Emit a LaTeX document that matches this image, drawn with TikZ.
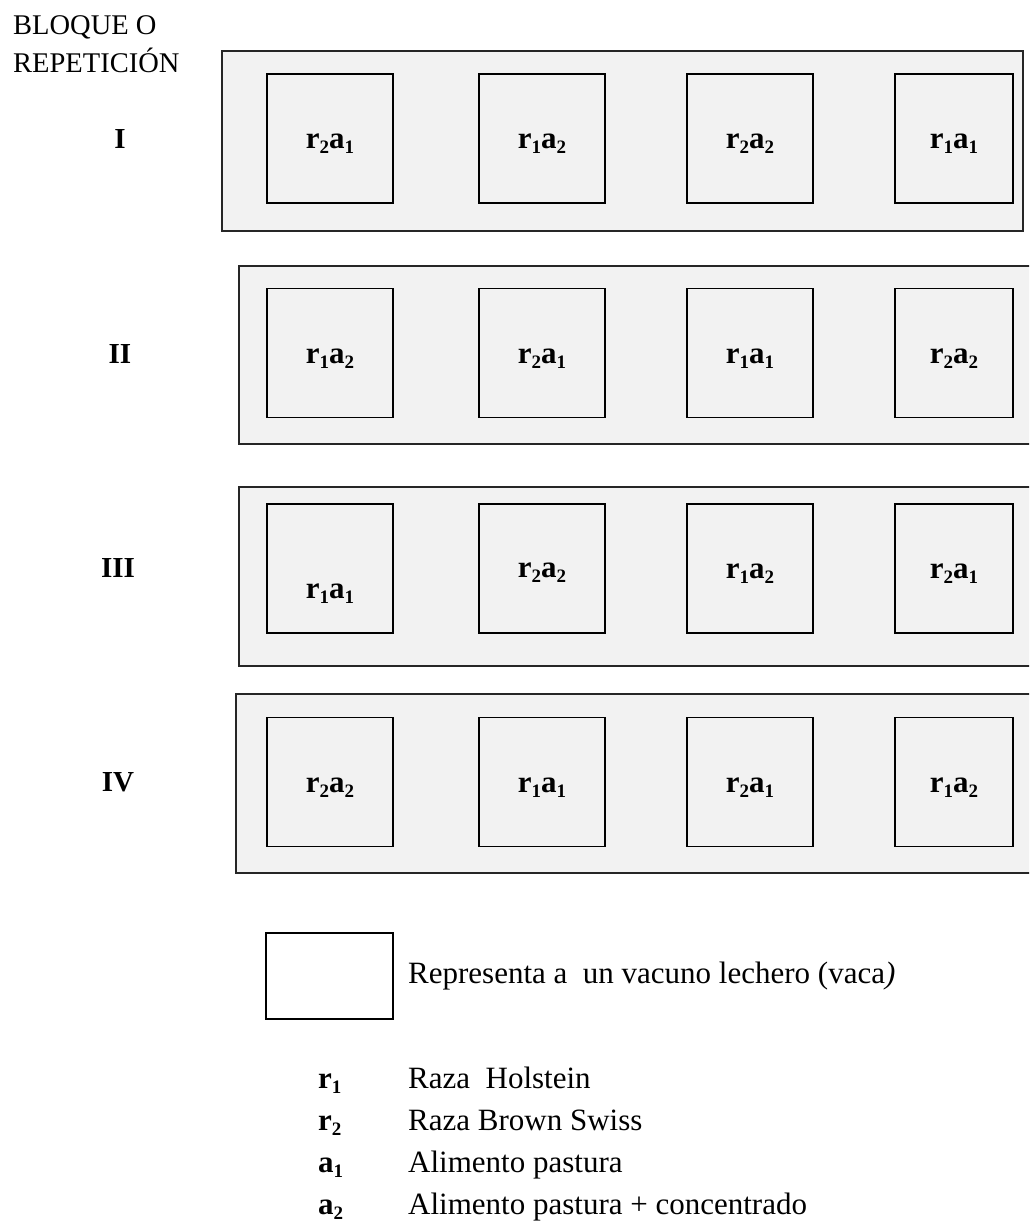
\documentclass[tikz,border=0pt]{standalone}
\usepackage{fontspec}
\setmainfont{Liberation Serif}
\newcommand{\subx}[1]{\raisebox{-0.17em}{\fontsize{19}{19}\selectfont #1}}
\begin{document}
\begin{tikzpicture}[x=1pt,y=-1pt,
  rowbox/.style={draw=black!85, line width=1.8pt, fill=gray!10},
  cell/.style={draw=black, line width=1.6pt, fill=gray!10, minimum height=129pt, minimum width=126pt, inner sep=0pt},
  lastcell/.style={cell, minimum width=118pt},
  lab/.style={anchor=base, inner sep=0pt, font=\fontsize{31}{31}\selectfont\bfseries},
  roman/.style={anchor=base, inner sep=0pt, font=\fontsize{29}{29}\selectfont\bfseries},
  plain/.style={anchor=base west, inner sep=0pt, font=\fontsize{28.5}{28.5}\selectfont},
  legtxt/.style={anchor=base west, inner sep=0pt, font=\fontsize{31}{31}\selectfont},
  legsym/.style={anchor=base west, inner sep=0pt, font=\fontsize{31}{31}\selectfont\bfseries},
  legcell/.style={draw=black, line width=1.6pt, fill=white, minimum height=86pt, minimum width=127pt, inner sep=0pt}
]
\useasboundingbox (0,0) rectangle (1029,1222);
\clip (0,0) rectangle (1029,1222);

% header
\node[plain] (hdr1) at (13,35) {BLOQUE O};
\node[plain] (hdr2) at (13,73) {REPETICIÓN};

% block rectangles
\draw[rowbox] (222,51) rectangle (1023,231);
\draw[rowbox] (239,266) rectangle (1040,444);
\draw[rowbox] (239,487) rectangle (1040,666);
\draw[rowbox] (236,694) rectangle (1040,873);

% roman numerals
\node[roman] (rI) at (120,149) {I};
\node[roman] (rII) at (120,363) {II};
\node[roman] (rIII) at (118,577) {III};
\node[roman] (rIV) at (118,791) {IV};

% row I
\node[cell] (c11) at (330,138.5) {};
\node[cell] (c12) at (542,138.5) {};
\node[cell] (c13) at (750,138.5) {};
\node[lastcell] (c14) at (954,138.5) {};
\node[lab] (l11) at (330,148.5) {r\subx{2}a\subx{1}};
\node[lab] (l12) at (542,148.5) {r\subx{1}a\subx{2}};
\node[lab] (l13) at (750,148.5) {r\subx{2}a\subx{2}};
\node[lab] (l14) at (954,148.5) {r\subx{1}a\subx{1}};

% row II
\node[cell] (c21) at (330,353) {};
\node[cell] (c22) at (542,353) {};
\node[cell] (c23) at (750,353) {};
\node[lastcell] (c24) at (954,353) {};
\node[lab] (l21) at (330,363) {r\subx{1}a\subx{2}};
\node[lab] (l22) at (542,363) {r\subx{2}a\subx{1}};
\node[lab] (l23) at (750,363) {r\subx{1}a\subx{1}};
\node[lab] (l24) at (954,363) {r\subx{2}a\subx{2}};

% row III
\node[cell] (c31) at (330,568.5) {};
\node[cell] (c32) at (542,568.5) {};
\node[cell] (c33) at (750,568.5) {};
\node[lastcell] (c34) at (954,568.5) {};
\node[lab] (l31) at (330,598) {r\subx{1}a\subx{1}};
\node[lab] (l32) at (542,577) {r\subx{2}a\subx{2}};
\node[lab] (l33) at (750,578) {r\subx{1}a\subx{2}};
\node[lab] (l34) at (954,578) {r\subx{2}a\subx{1}};

% row IV
\node[cell] (c41) at (330,782) {};
\node[cell] (c42) at (542,782) {};
\node[cell] (c43) at (750,782) {};
\node[lastcell] (c44) at (954,782) {};
\node[lab] (l41) at (330,792) {r\subx{2}a\subx{2}};
\node[lab] (l42) at (542,792) {r\subx{1}a\subx{1}};
\node[lab] (l43) at (750,792) {r\subx{2}a\subx{1}};
\node[lab] (l44) at (954,792) {r\subx{1}a\subx{2}};

% legend
\node[legcell] (leg) at (329.5,976) {};
\node[legtxt] (legt) at (408,983) {Representa a\ \ un vacuno lechero (vaca\textit{)}};

\node[legsym] (s1) at (318,1088) {r\subx{1}};
\node[legtxt] (t1) at (408,1088) {Raza\ \ Holstein};
\node[legsym] (s2) at (318,1130) {r\subx{2}};
\node[legtxt] (t2) at (408,1130) {Raza Brown Swiss};
\node[legsym] (s3) at (318,1172) {a\subx{1}};
\node[legtxt] (t3) at (408,1172) {Alimento pastura};
\node[legsym] (s4) at (318,1214) {a\subx{2}};
\node[legtxt] (t4) at (408,1214) {Alimento pastura + concentrado};
\end{tikzpicture}
\end{document}
